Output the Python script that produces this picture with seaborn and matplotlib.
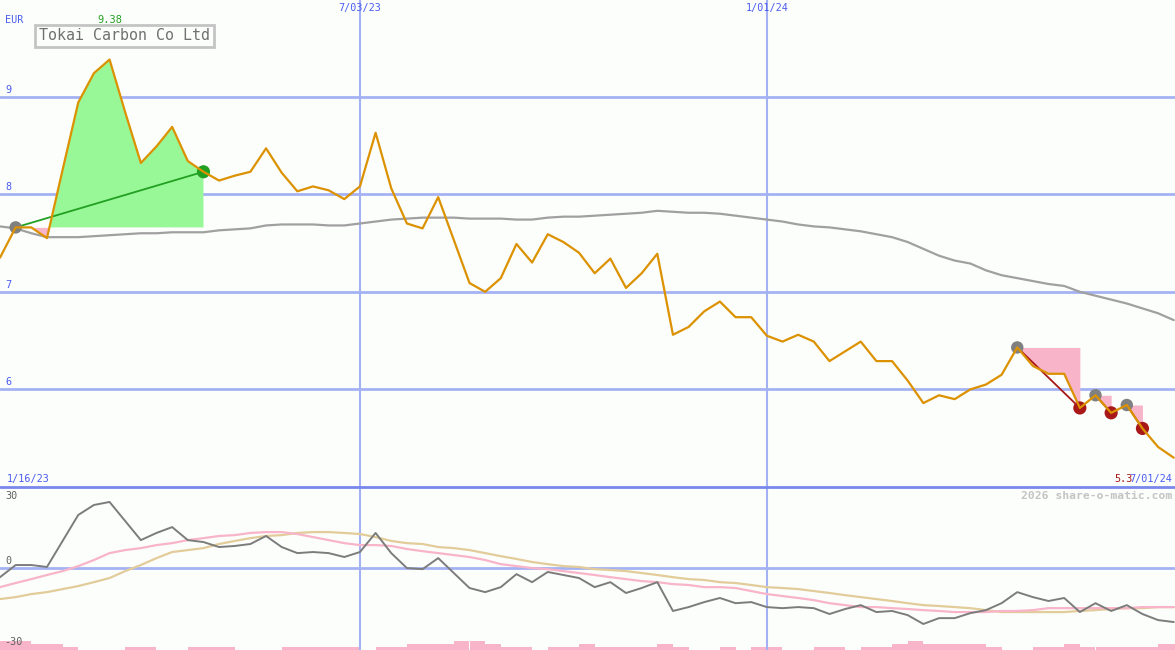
#!/usr/bin/env python3
"""Weekly price chart with trade markers and an oscillator panel underneath."""

import numpy as np
import pandas as pd
import matplotlib
matplotlib.use('Agg')
import matplotlib.pyplot as plt
import matplotlib.dates as mdates
import matplotlib.transforms as mtransforms
from matplotlib.lines import Line2D
import seaborn as sns

sns.set_theme(style='white')
plt.rcParams['font.family'] = ['DejaVu Sans Mono', 'DejaVu Sans']

# ---- data (one value per week) ----
TITLE = 'Tokai Carbon Co Ltd'
CURRENCY = 'EUR'
START = '2023-01-23'
FIRST_LABEL = '1/16/23'
MARKED_DATES = ['2023-07-03', '2024-01-01']

price = [7.35, 7.66, 7.66, 7.55, 8.25, 8.94, 9.24, 9.38, 8.84, 8.32,
         8.49, 8.69, 8.34, 8.23, 8.14, 8.19, 8.23, 8.47, 8.22, 8.03,
         8.08, 8.04, 7.95, 8.08, 8.63, 8.06, 7.70, 7.65, 7.97, 7.53,
         7.09, 7.00, 7.14, 7.49, 7.30, 7.59, 7.51, 7.40, 7.19, 7.34,
         7.04, 7.19, 7.39, 6.56, 6.64, 6.80, 6.90, 6.74, 6.74, 6.55,
         6.49, 6.56, 6.49, 6.29, 6.39, 6.49, 6.29, 6.29, 6.09, 5.86,
         5.94, 5.90, 6.00, 6.05, 6.15, 6.43, 6.24, 6.16, 6.16, 5.81,
         5.94, 5.76, 5.84, 5.60, 5.41, 5.30]

moving_avg = [7.67, 7.65, 7.60, 7.56, 7.56, 7.56, 7.57, 7.58, 7.59, 7.60,
              7.60, 7.61, 7.61, 7.61, 7.63, 7.64, 7.65, 7.68, 7.69, 7.69,
              7.69, 7.68, 7.68, 7.70, 7.72, 7.74, 7.75, 7.76, 7.76, 7.76,
              7.75, 7.75, 7.75, 7.74, 7.74, 7.76, 7.77, 7.77, 7.78, 7.79,
              7.80, 7.81, 7.83, 7.82, 7.81, 7.81, 7.80, 7.78, 7.76, 7.74,
              7.72, 7.69, 7.67, 7.66, 7.64, 7.62, 7.59, 7.56, 7.51, 7.44,
              7.37, 7.32, 7.29, 7.22, 7.17, 7.14, 7.11, 7.08, 7.06, 7.00,
              6.96, 6.92, 6.88, 6.83, 6.78, 6.71]

momentum = [-4.2, 1.4, 1.4, 0.5, 12.5, 24.5, 29.1, 30.5, 21.7, 12.9,
            16.2, 18.9, 12.9, 12.0, 9.7, 10.2, 11.1, 14.8, 9.7, 6.9,
            7.4, 6.9, 5.1, 7.4, 16.2, 6.9, 0.0, -0.5, 4.6, -2.3,
            -9.2, -11.1, -8.8, -2.8, -6.5, -1.8, -3.2, -4.6, -8.8, -6.5,
            -11.5, -9.2, -6.5, -19.8, -18.0, -15.7, -13.8, -16.2, -15.7, -18.0,
            -18.5, -18.0, -18.5, -21.2, -18.9, -17.1, -20.3, -19.8, -21.7, -25.8,
            -23.1, -23.1, -20.8, -19.4, -16.2, -11.1, -13.4, -15.2, -13.8, -20.3,
            -16.2, -19.8, -17.1, -21.2, -24.0, -24.9]

signal_fast = [-8.8, -6.9, -5.1, -3.2, -1.4, 0.9, 3.7, 6.9, 8.3, 9.2,
               10.6, 11.5, 12.9, 13.8, 14.8, 15.2, 16.2, 16.6, 16.6, 15.7,
               14.3, 12.9, 11.5, 10.6, 10.6, 10.2, 8.8, 7.8, 6.9, 6.0,
               5.1, 3.7, 1.8, 0.9, 0.0, -0.5, -1.4, -2.3, -3.2, -4.2,
               -5.1, -6.0, -6.5, -7.4, -7.8, -8.8, -8.8, -9.2, -10.6, -12.0,
               -12.9, -13.8, -14.8, -16.2, -17.1, -18.0, -18.0, -18.5, -18.9, -19.4,
               -19.8, -20.3, -20.3, -20.3, -19.8, -19.8, -19.4, -18.5, -18.5, -18.5,
               -18.5, -18.5, -18.5, -18.0, -18.0, -18.0]

signal_slow = [-14.3, -13.4, -12.0, -11.1, -9.7, -8.3, -6.5, -4.6, -1.4, 1.4,
               4.6, 7.4, 8.3, 9.2, 11.1, 12.5, 13.8, 14.8, 15.2, 16.2,
               16.6, 16.6, 16.2, 15.7, 14.3, 12.5, 11.5, 11.1, 9.7, 9.2,
               8.3, 6.9, 5.5, 4.2, 2.8, 1.8, 0.9, 0.5, -0.5, -0.9,
               -1.4, -2.3, -3.2, -4.2, -5.1, -5.5, -6.5, -6.9, -7.8, -8.8,
               -9.2, -9.7, -10.6, -11.5, -12.5, -13.4, -14.3, -15.2, -16.2, -17.1,
               -17.5, -18.0, -18.5, -19.4, -20.3, -20.3, -20.3, -20.3, -20.3, -19.8,
               -19.4, -18.9, -18.5, -18.5, -18.0, -18.0]

volume = [3, 3, 2, 2, 1, 0, 0, 0, 1, 1,
          0, 0, 1, 1, 1, 0, 0, 0, 1, 1,
          1, 1, 1, 0, 1, 1, 2, 2, 2, 3,
          3, 2, 1, 1, 0, 1, 1, 2, 1, 1,
          1, 1, 2, 1, 0, 0, 1, 0, 1, 1,
          0, 0, 1, 1, 0, 1, 1, 2, 3, 2,
          2, 2, 2, 1, 0, 0, 1, 1, 2, 1,
          1, 1, 1, 1, 2, 2]

# (entry week, exit week)
trades = [(1, 13), (65, 69), (70, 71), (72, 73)]

price_levels = [9, 8, 7, 6]
osc_levels = [30, 0, -30]

# ---- colours ----
BG = '#fcfefc'
BLUE_TXT = '#4a5cf0'
GRID = '#a4b2f4'
DIVIDER = '#7888ec'
ORANGE = '#dc9200'
GREY_MA = '#a0a0a0'
GREEN_FILL = '#98f898'
GREEN = '#22a022'
PINK = '#f8b4c8'
DARK_RED = '#a81818'
TAN = '#e2cc9a'

W, H = 1175, 650
dates = pd.date_range(START, periods=len(price), freq='7D')
week = pd.Timedelta(days=7)
x_left = dates[0]
x_right = dates[0] + week * (W / 15.65)

fig = plt.figure(figsize=(W / 100, H / 100), dpi=100, facecolor=BG)
split = 163 / H
ax = fig.add_axes([0, split, 1, 1 - split])
ax_osc = fig.add_axes([0, 0, 1, split])
ax_vol = ax_osc.twinx()

for a in (ax, ax_osc, ax_vol):
    a.set_facecolor(BG)
    for s in a.spines.values():
        s.set_visible(False)

ax_vol.set_zorder(0)
ax_osc.set_zorder(1)
ax_osc.patch.set_visible(False)

# ---- price panel ----
for lvl in price_levels:
    ax.axhline(lvl, color=GRID, lw=2, zorder=0)
for d in MARKED_DATES:
    ax.axvline(pd.Timestamp(d), color=GRID, lw=1.5, zorder=0)
    ax_osc.axvline(pd.Timestamp(d), color=GRID, lw=1.5, zorder=0)

price_arr = np.array(price)
for a_i, b_i in trades:
    seg_x = dates[a_i:b_i + 1]
    seg_y = price_arr[a_i:b_i + 1]
    entry = price_arr[a_i]
    ax.fill_between(seg_x, seg_y, entry, where=seg_y >= entry, interpolate=True,
                    color=GREEN_FILL, lw=0, zorder=1)
    ax.fill_between(seg_x, seg_y, entry, where=seg_y <= entry, interpolate=True,
                    color=PINK, lw=0, zorder=1)
    win = price_arr[b_i] > entry
    ax.plot([dates[a_i], dates[b_i]], [entry, price_arr[b_i]],
            color=GREEN if win else DARK_RED, lw=1.3, zorder=2)

sns.lineplot(x=dates, y=moving_avg, ax=ax, color=GREY_MA, lw=1.6, estimator=None, zorder=2)

entry_idx = [t[0] for t in trades]
exit_idx = [t[1] for t in trades]
exit_cols = [GREEN if price[b] > price[a] else DARK_RED for a, b in trades]
sns.scatterplot(x=dates[entry_idx], y=price_arr[entry_idx], ax=ax, color='#808080',
                s=80, edgecolor='none', zorder=3)
ax.scatter(dates[exit_idx], price_arr[exit_idx], c=exit_cols, s=90, edgecolors='none', zorder=3)

sns.lineplot(x=dates, y=price, ax=ax, color=ORANGE, lw=1.6, estimator=None, zorder=4)

ax.set_xlim(x_left, x_right)
ax.set_ylim(5.0, 9.99)
ax.set_xticks([])
ax.set_yticks([])
ax.set_xlabel('')
ax.set_ylabel('')

blend = mtransforms.blended_transform_factory(ax.transAxes, ax.transData)
for lvl in price_levels:
    ax.annotate(str(lvl), xy=(0, lvl), xycoords=blend, xytext=(5, 2),
                textcoords='offset pixels', va='bottom', ha='left',
                color=BLUE_TXT, fontsize=7.3)

top_blend = mtransforms.blended_transform_factory(ax.transData, ax.transAxes)
for d in MARKED_DATES:
    t = pd.Timestamp(d)
    ax.annotate(f'{t.month}/{t.day:02d}/{t.year % 100}', xy=(mdates.date2num(t), 1),
                xycoords=top_blend, xytext=(0, -8), textcoords='offset pixels',
                ha='center', va='center', color=BLUE_TXT, fontsize=7.3)

top_i = int(np.argmax(price_arr))
ax.annotate(f'{price_arr[top_i]:.2f}', xy=(mdates.date2num(dates[top_i]), 1),
            xycoords=top_blend, xytext=(0, -20), textcoords='offset pixels',
            ha='center', va='center', color=GREEN, fontsize=7.5)


def fpos(px, py):
    return px / W, 1 - py / H


fig.text(*fpos(5, 20), CURRENCY, color=BLUE_TXT, fontsize=7.3, va='center', ha='left')
fig.text(*fpos(39, 36), TITLE, color='#707070', fontsize=10.8, va='center', ha='left',
         bbox=dict(boxstyle='square,pad=0.25', facecolor=BG, edgecolor='#c4c4c4', lw=2))

last = dates[-1]
fig.text(*fpos(7, 479), FIRST_LABEL, color=BLUE_TXT, fontsize=7.3, va='center', ha='left')
fig.text(*fpos(1114, 479), f'{price[-1]:.1f}', color=DARK_RED, fontsize=7.3,
         va='center', ha='left')
fig.text(*fpos(1172, 479), f'{last.month}/{last.day:02d}/{last.year % 100}',
         color=BLUE_TXT, fontsize=7.3, va='center', ha='right')
fig.text(*fpos(1172, 496), '2026 share-o-matic.com', color='#c4c4c4', fontsize=8.2,
         fontweight='bold', va='center', ha='right')

fig.add_artist(Line2D([0, 1], [split, split], transform=fig.transFigure,
                      color=DIVIDER, lw=2))

# ---- oscillator panel ----
ax_vol.bar(dates, volume, width=7, align='edge', color=PINK, lw=0)
ax_vol.set_ylim(0, 163 / 3)
ax_vol.set_yticks([])

ax_osc.axhline(0, color=GRID, lw=2, zorder=0)
sns.lineplot(x=dates, y=signal_slow, ax=ax_osc, color=TAN, lw=1.6, estimator=None, zorder=2)
sns.lineplot(x=dates, y=signal_fast, ax=ax_osc, color=PINK, lw=1.6, estimator=None, zorder=2)
sns.lineplot(x=dates, y=momentum, ax=ax_osc, color='#7c7c7c', lw=1.4, estimator=None, zorder=3)

ax_osc.set_xlim(x_left, x_right)
ax_vol.set_xlim(x_left, x_right)
ax_osc.set_ylim(-37.8, 37.4)
for a in (ax_osc, ax_vol):
    a.set_xticks([])
    a.set_yticks([])
    a.set_xlabel('')
    a.set_ylabel('')

oblend = mtransforms.blended_transform_factory(ax_osc.transAxes, ax_osc.transData)
for lvl in osc_levels:
    below = lvl == min(osc_levels)
    ax_osc.annotate(str(lvl), xy=(0, lvl), xycoords=oblend,
                    xytext=(5 if lvl >= 0 else 4, -4 if below else 2),
                    textcoords='offset pixels', va='top' if below else 'bottom',
                    ha='left', color='#606060', fontsize=7.3, zorder=5)

fig.savefig('out.png', dpi=100, facecolor=BG)
